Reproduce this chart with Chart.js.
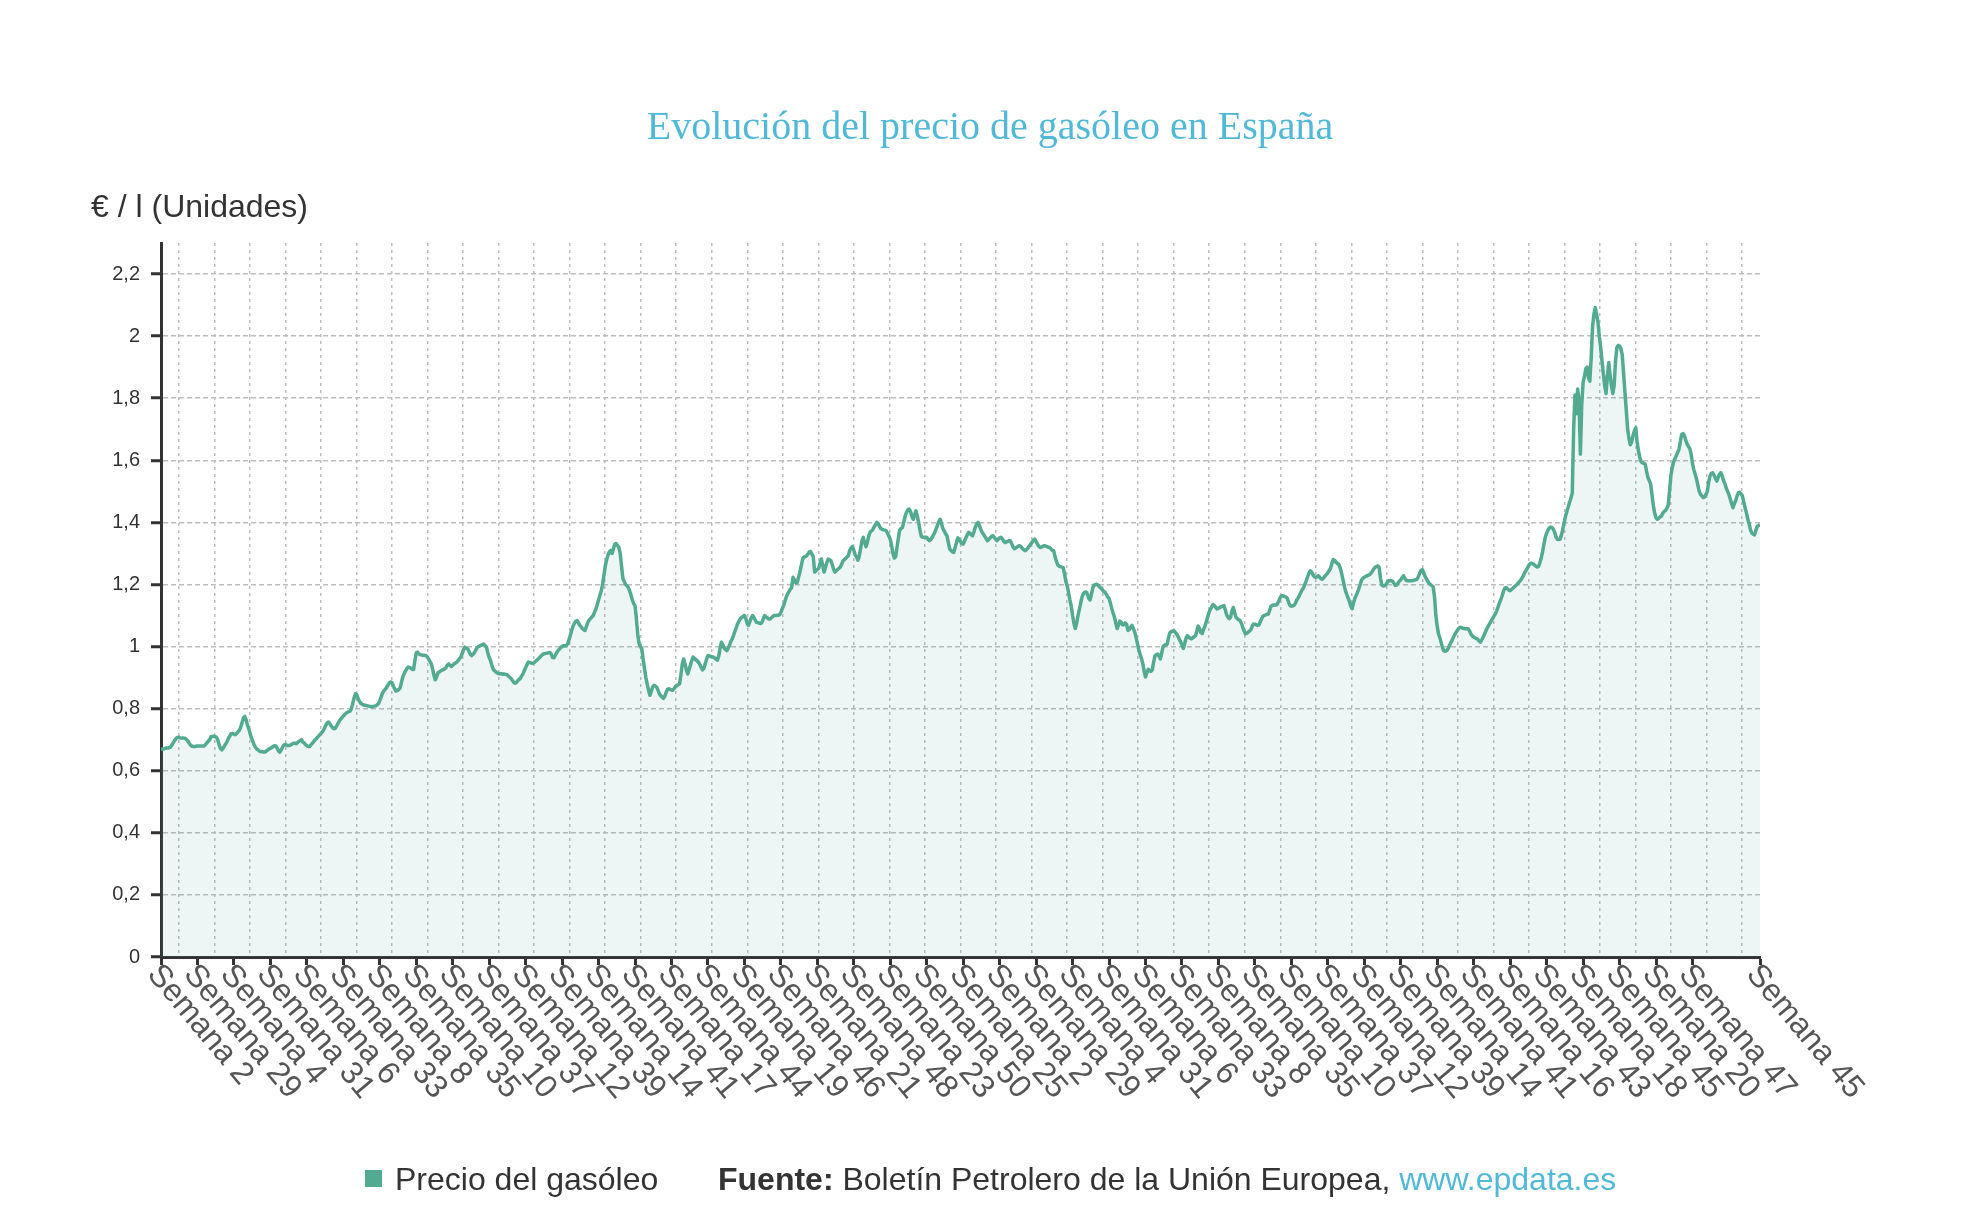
<!DOCTYPE html>
<html lang="es">
<head>
<meta charset="utf-8">
<title>Evolución del precio de gasóleo en España</title>
<script src="https://cdn.jsdelivr.net/npm/chart.js@4.4.1/dist/chart.umd.min.js"></script>
<style>
  html, body { margin: 0; padding: 0; background: #fff; }
  #wrap { position: relative; width: 1972px; height: 1224px; overflow: hidden;
          font-family: "Liberation Sans", Arial, sans-serif; color: #333; }
  #myChart { position: absolute; left: 0; top: 0; }
  .titulo { position: absolute; left: 0; width: 1980px; top: 106px; text-align: center;
            font: 40px/40px "Liberation Serif", "Times New Roman", serif; color: #52b8d8; }
  .unidad { position: absolute; left: 91px; top: 190px; font-size: 32px; line-height: 32px; }
  .cuadro { position: absolute; left: 365px; top: 1170px; width: 17px; height: 17px; background: #52aa91; }
  .leyenda { position: absolute; left: 395px; top: 1163px; font-size: 32px; line-height: 32px; white-space: nowrap; }
  .fuente { position: absolute; left: 718px; top: 1163px; font-size: 32px; line-height: 32px; white-space: nowrap; }
  .fuente a { color: #52b8d8; text-decoration: none; }
</style>
</head>
<body>
<div id="wrap">
  <canvas id="myChart" width="1972" height="1224"></canvas>
  <div class="titulo">Evolución del precio de gasóleo en España</div>
  <div class="unidad">€ / l (Unidades)</div>
  <span class="cuadro"></span>
  <div class="leyenda">Precio del gasóleo</div>
  <div class="fuente"><b>Fuente:</b> Boletín Petrolero de la Unión Europea, <a>www.epdata.es</a></div>
</div>
<script>
//Weekly price of diesel (€/l), one row per 27 weeks, from Semana 2 up to the last Semana 45
let precioGasoleo = [
  0.670,0.670,0.670,0.672,0.673,0.673,0.674,0.676,0.683,0.690,0.697,0.703,0.707,0.708,0.706,0.705,0.706,0.705,0.704,0.700,0.695,0.688,0.682,0.679,0.678,0.678,0.679,
  0.68,0.68,0.68,0.68,0.68,0.68,0.685,0.69,0.695,0.70,0.71,0.71,0.712,0.71,0.708,0.70,0.685,0.672,0.667,0.672,0.68,0.687,0.695,0.705,0.712,0.719,0.72,
  0.718,0.716,0.72,0.725,0.73,0.74,0.755,0.77,0.775,0.765,0.748,0.735,0.72,0.705,0.695,0.683,0.675,0.67,0.667,0.663,0.662,0.661,0.66,0.66,0.664,0.667,0.67,
  0.672,0.675,0.678,0.681,0.68,0.672,0.664,0.66,0.667,0.676,0.683,0.685,0.683,0.681,0.681,0.683,0.686,0.688,0.689,0.687,0.69,0.694,0.697,0.70,0.692,0.69,0.684,
  0.681,0.678,0.678,0.683,0.688,0.694,0.699,0.703,0.708,0.713,0.718,0.723,0.728,0.737,0.746,0.754,0.757,0.752,0.745,0.739,0.735,0.737,0.744,0.752,0.76,0.766,0.771,
  0.776,0.781,0.785,0.788,0.79,0.792,0.80,0.818,0.835,0.848,0.845,0.832,0.823,0.817,0.814,0.812,0.811,0.81,0.809,0.808,0.807,0.806,0.807,0.808,0.809,0.812,0.816,
  0.826,0.838,0.85,0.857,0.862,0.868,0.876,0.883,0.886,0.884,0.874,0.864,0.857,0.858,0.862,0.866,0.884,0.902,0.912,0.921,0.929,0.934,0.933,0.93,0.927,0.926,0.955,
  0.98,0.982,0.976,0.974,0.973,0.972,0.972,0.971,0.968,0.961,0.953,0.946,0.93,0.91,0.893,0.90,0.915,0.918,0.921,0.924,0.926,0.928,0.932,0.94,0.944,0.94,0.936,
  0.94,0.944,0.947,0.95,0.955,0.961,0.966,0.977,0.99,0.998,0.995,0.993,0.985,0.976,0.971,0.975,0.98,0.988,0.996,1.0,1.002,1.004,1.006,1.008,1.003,0.998,0.98,
  0.965,0.955,0.94,0.927,0.922,0.918,0.915,0.913,0.912,0.913,0.911,0.912,0.91,0.91,0.906,0.902,0.898,0.892,0.886,0.882,0.884,0.889,0.894,0.897,0.905,0.912,0.922,
  0.932,0.942,0.95,0.949,0.947,0.946,0.947,0.951,0.955,0.959,0.963,0.968,0.972,0.976,0.977,0.978,0.979,0.98,0.981,0.975,0.965,0.964,0.972,0.98,0.987,0.992,0.997,
  1.0,1.003,1.003,1.003,1.008,1.02,1.035,1.05,1.065,1.074,1.081,1.084,1.078,1.069,1.064,1.058,1.054,1.052,1.065,1.078,1.085,1.09,1.095,1.10,1.11,1.12,1.135,
  1.15,1.165,1.18,1.20,1.23,1.26,1.28,1.295,1.305,1.31,1.30,1.315,1.33,1.332,1.325,1.32,1.30,1.26,1.22,1.21,1.20,1.196,1.19,1.18,1.166,1.15,1.138,
  1.132,1.09,1.04,1.01,1.0,0.993,0.96,0.93,0.90,0.88,0.86,0.843,0.855,0.87,0.875,0.873,0.869,0.86,0.848,0.842,0.838,0.833,0.84,0.852,0.862,0.864,0.862,
  0.86,0.859,0.865,0.871,0.875,0.877,0.88,0.91,0.945,0.96,0.945,0.925,0.912,0.925,0.94,0.955,0.966,0.962,0.958,0.954,0.95,0.942,0.933,0.925,0.93,0.945,0.96,
  0.971,0.97,0.968,0.967,0.966,0.963,0.96,0.956,0.97,0.995,1.014,1.005,0.995,0.99,0.987,0.995,1.005,1.017,1.025,1.037,1.05,1.062,1.074,1.082,1.09,1.094,1.097,
  1.10,1.09,1.075,1.068,1.08,1.092,1.10,1.094,1.085,1.078,1.077,1.075,1.074,1.078,1.09,1.10,1.096,1.092,1.089,1.089,1.093,1.097,1.10,1.10,1.101,1.101,1.102,
  1.11,1.122,1.132,1.145,1.16,1.17,1.177,1.185,1.19,1.223,1.215,1.205,1.205,1.222,1.239,1.258,1.28,1.288,1.29,1.292,1.298,1.305,1.306,1.298,1.29,1.24,1.245,
  1.248,1.252,1.268,1.282,1.26,1.24,1.255,1.27,1.282,1.28,1.277,1.265,1.25,1.24,1.244,1.248,1.252,1.256,1.265,1.276,1.28,1.284,1.289,1.293,1.31,1.318,1.322,
  1.31,1.295,1.29,1.278,1.29,1.315,1.34,1.352,1.335,1.322,1.335,1.355,1.368,1.372,1.376,1.385,1.393,1.40,1.395,1.388,1.38,1.378,1.376,1.375,1.373,1.365,1.355,
  1.346,1.325,1.30,1.285,1.29,1.32,1.35,1.376,1.38,1.383,1.40,1.42,1.432,1.44,1.443,1.435,1.42,1.41,1.425,1.437,1.42,1.40,1.375,1.355,1.352,1.352,1.352,
  1.352,1.345,1.341,1.345,1.352,1.36,1.368,1.38,1.392,1.403,1.41,1.395,1.38,1.372,1.363,1.357,1.335,1.315,1.31,1.305,1.303,1.318,1.335,1.35,1.345,1.338,1.332,
  1.33,1.34,1.35,1.36,1.368,1.365,1.36,1.357,1.37,1.385,1.395,1.40,1.39,1.378,1.368,1.362,1.355,1.348,1.341,1.345,1.35,1.355,1.357,1.352,1.346,1.341,1.346,
  1.35,1.352,1.347,1.34,1.335,1.337,1.339,1.341,1.34,1.33,1.32,1.315,1.318,1.321,1.324,1.325,1.32,1.315,1.311,1.309,1.313,1.318,1.324,1.33,1.336,1.342,1.346,
  1.338,1.33,1.323,1.319,1.321,1.323,1.325,1.324,1.322,1.32,1.319,1.315,1.31,1.309,1.29,1.275,1.263,1.259,1.257,1.256,1.255,1.235,1.21,1.196,1.175,1.15,1.13,
  1.10,1.075,1.058,1.075,1.10,1.12,1.14,1.16,1.17,1.175,1.176,1.168,1.155,1.15,1.17,1.19,1.198,1.20,1.201,1.197,1.192,1.188,1.183,1.178,1.175,1.168,1.16,
  1.155,1.14,1.123,1.108,1.095,1.075,1.058,1.07,1.082,1.078,1.07,1.07,1.076,1.072,1.052,1.055,1.062,1.068,1.058,1.047,1.03,1.01,0.99,0.975,0.962,0.945,0.92,
  0.902,0.915,0.927,0.922,0.92,0.925,0.95,0.97,0.974,0.976,0.97,0.96,0.98,1.0,1.004,1.006,1.008,1.028,1.044,1.048,1.05,1.051,1.046,1.041,1.033,1.024,1.015,
  1.005,0.994,1.01,1.027,1.035,1.031,1.027,1.025,1.028,1.032,1.035,1.05,1.066,1.058,1.045,1.042,1.055,1.066,1.08,1.095,1.11,1.12,1.128,1.135,1.132,1.126,1.121,
  1.123,1.126,1.128,1.13,1.132,1.12,1.103,1.095,1.09,1.095,1.115,1.126,1.11,1.094,1.089,1.087,1.084,1.075,1.062,1.05,1.041,1.043,1.046,1.05,1.055,1.065,1.073,
  1.072,1.07,1.068,1.07,1.08,1.09,1.098,1.10,1.102,1.104,1.105,1.118,1.13,1.133,1.134,1.134,1.134,1.14,1.15,1.16,1.164,1.163,1.161,1.16,1.155,1.142,1.132,
  1.13,1.131,1.133,1.14,1.15,1.157,1.165,1.174,1.183,1.19,1.20,1.212,1.225,1.236,1.244,1.24,1.232,1.225,1.223,1.225,1.228,1.223,1.218,1.217,1.222,1.228,1.232,
  1.238,1.245,1.252,1.268,1.28,1.278,1.272,1.268,1.266,1.255,1.24,1.22,1.20,1.18,1.168,1.157,1.145,1.13,1.122,1.14,1.155,1.165,1.175,1.187,1.20,1.215,1.22,
  1.223,1.226,1.228,1.23,1.232,1.236,1.243,1.25,1.255,1.258,1.26,1.255,1.22,1.198,1.195,1.196,1.20,1.207,1.212,1.213,1.212,1.21,1.203,1.197,1.198,1.205,1.211,
  1.215,1.222,1.228,1.22,1.213,1.212,1.212,1.212,1.212,1.213,1.214,1.215,1.217,1.225,1.236,1.245,1.248,1.238,1.226,1.218,1.21,1.204,1.20,1.196,1.192,1.16,1.10,
  1.065,1.04,1.028,1.012,0.995,0.986,0.985,0.987,0.993,1.003,1.012,1.02,1.03,1.039,1.046,1.053,1.059,1.062,1.061,1.059,1.058,1.057,1.057,1.057,1.05,1.04,1.034,
  1.031,1.028,1.026,1.023,1.018,1.014,1.022,1.031,1.04,1.05,1.06,1.067,1.075,1.083,1.09,1.098,1.105,1.115,1.127,1.14,1.15,1.163,1.177,1.188,1.19,1.186,1.182,
  1.18,1.184,1.188,1.192,1.196,1.20,1.205,1.21,1.215,1.222,1.23,1.24,1.247,1.255,1.263,1.268,1.268,1.266,1.263,1.259,1.256,1.258,1.27,1.285,1.305,1.33,1.352,
  1.365,1.375,1.382,1.385,1.383,1.378,1.368,1.352,1.345,1.345,1.346,1.36,1.378,1.40,1.42,1.435,1.45,1.465,1.478,1.495,1.70,1.81,1.75,1.83,1.79,1.62,1.78,
  1.85,1.87,1.895,1.90,1.865,1.855,1.93,2.03,2.07,2.092,2.07,2.045,2.0,1.965,1.92,1.88,1.84,1.815,1.87,1.915,1.875,1.84,1.815,1.84,1.92,1.962,1.97,
  1.968,1.96,1.94,1.88,1.82,1.76,1.70,1.67,1.65,1.66,1.68,1.695,1.705,1.66,1.63,1.61,1.595,1.592,1.59,1.588,1.565,1.545,1.535,1.524,1.49,1.455,1.43,
  1.415,1.41,1.413,1.418,1.42,1.43,1.435,1.438,1.445,1.455,1.50,1.55,1.576,1.595,1.605,1.615,1.625,1.635,1.66,1.683,1.686,1.68,1.665,1.653,1.645,1.638,1.62,
  1.59,1.57,1.555,1.54,1.52,1.50,1.49,1.485,1.48,1.482,1.49,1.50,1.53,1.55,1.558,1.56,1.552,1.542,1.533,1.545,1.555,1.56,1.55,1.535,1.525,1.51,1.50,
  1.49,1.475,1.46,1.447,1.46,1.47,1.485,1.495,1.497,1.492,1.485,1.465,1.447,1.43,1.41,1.395,1.375,1.366,1.362,1.36,1.375,1.388,1.39,1.393
];
//Tick labels on the x axis: one every 27 weeks, plus the last week
let xTickLabels = [
  'Semana 2','Semana 29','Semana 4','Semana 31','Semana 6','Semana 33','Semana 8','Semana 35',
  'Semana 10','Semana 37','Semana 12','Semana 39','Semana 14','Semana 41','Semana 17','Semana 44',
  'Semana 19','Semana 46','Semana 21','Semana 48','Semana 23','Semana 50','Semana 25','Semana 2',
  'Semana 29','Semana 4','Semana 31','Semana 6','Semana 33','Semana 8','Semana 35','Semana 10',
  'Semana 37','Semana 12','Semana 39','Semana 14','Semana 41','Semana 16','Semana 43','Semana 18',
  'Semana 45','Semana 20','Semana 47','Semana 45'
];
let semanasPorEtiqueta = 27;
let yTickValues = [0, 0.2, 0.4, 0.6, 0.8, 1, 1.2, 1.4, 1.6, 1.8, 2, 2.2];
let bandasGrid = 45; // vertical dashed lines sit in the middle of 45 equal bands

let colorLinea = '#52aa91',
  colorRelleno = 'rgba(82, 170, 145, 0.1)',
  colorGrid = '#bdbdbd',
  colorEje = '#333';

//Draws the rotated week labels under the x axis
const xLabelPlugin = {
  id: 'xLabels',
  afterDraw(chart) {
    const sx = chart.scales.x;
    const c = chart.ctx;
    c.save();
    c.font = '32px "Liberation Sans", Arial, sans-serif';
    c.fillStyle = '#555';
    c.textAlign = 'left';
    c.textBaseline = 'middle';
    sx.ticks.forEach((t, k) => {
      const px = sx.getPixelForValue(t.value);
      c.save();
      c.translate(px - 8, sx.top + 12);
      c.rotate(50 * Math.PI / 180);
      c.fillText(xTickLabels[k], 0, 0);
      c.restore();
    });
    c.restore();
  }
};

let ctx = document.getElementById('myChart').getContext('2d');
let myChart = new Chart(ctx, {
  type: 'line',
  data: {
    datasets: [{
      label: 'Precio del gasóleo',
      data: precioGasoleo.map((v, i) => ({ x: i, y: v })),
      borderColor: colorLinea,
      backgroundColor: colorRelleno,
      fill: 'origin',
      borderWidth: 3.5,
      borderJoinStyle: 'round',
      pointRadius: 0,
      tension: 0
    }]
  },
  options: {
    responsive: false,
    animation: false,
    devicePixelRatio: 1,
    layout: { padding: { top: 243, right: 212, left: 0, bottom: 0 } },
    plugins: { legend: { display: false }, tooltip: { enabled: false } },
    scales: {
      x: {
        type: 'linear',
        position: 'bottom',
        min: 0,
        max: precioGasoleo.length - 1,
        afterBuildTicks: s => {
          s.ticks = xTickLabels.map((l, k) => ({
            value: k === xTickLabels.length - 1 ? precioGasoleo.length - 1 : k * semanasPorEtiqueta
          }));
        },
        afterFit: s => { s.height = 267; },
        ticks: { display: false },
        grid: { drawOnChartArea: false, drawTicks: true, tickLength: 8, tickWidth: 3, tickColor: colorEje },
        border: { display: true, color: colorEje, width: 3 }
      },
      x2: {
        type: 'linear',
        position: 'top',
        min: 0,
        max: bandasGrid,
        afterBuildTicks: s => {
          s.ticks = [];
          for (let j = 0; j < bandasGrid; j++) s.ticks.push({ value: j + 0.5 });
        },
        afterFit: s => { s.height = 0; },
        ticks: { display: false },
        grid: { color: colorGrid, lineWidth: 1.5, drawTicks: false },
        border: { display: false, dash: [3, 4] }
      },
      y: {
        min: 0,
        max: 2.3,
        afterBuildTicks: s => { s.ticks = yTickValues.map(v => ({ value: v })); },
        afterFit: s => { s.width = 161; },
        ticks: {
          color: colorEje,
          font: { size: 20, family: '"Liberation Sans", Arial, sans-serif' },
          padding: 11,
          callback: v => String(Number(v.toFixed(1))).replace('.', ',')
        },
        grid: { color: colorGrid, lineWidth: 1.5, tickLength: 10, tickWidth: 3, tickColor: colorEje },
        border: { color: colorEje, width: 3, dash: [5, 3] }
      }
    }
  },
  plugins: [xLabelPlugin]
});
</script>
</body>
</html>
